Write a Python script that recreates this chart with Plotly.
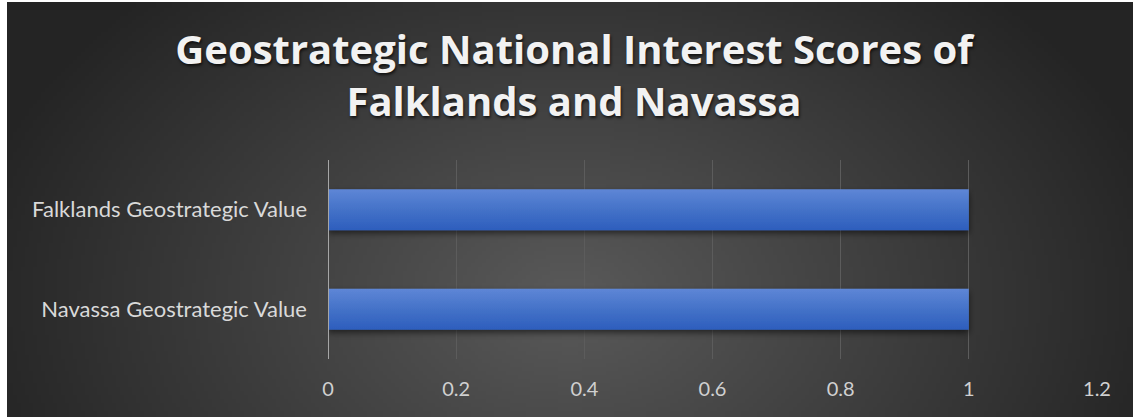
import base64, struct, zlib
import numpy as np
import plotly.graph_objects as go

# ---- data ----
categories = ["Navassa Geostrategic Value", "Falklands Geostrategic Value"]
scores = [1, 1]
x_ticks = [0, 0.2, 0.4, 0.6, 0.8, 1, 1.2]
x_tick_labels = ["0", "0.2", "0.4", "0.6", "0.8", "1", "1.2"]
title_text = "Geostrategic National Interest Scores of<br>Falklands and Navassa"

# ---- radial gradient background as PNG ----
W, H = 1133, 417
ML, MR, MT, MB = 328, 36, 160, 58
gw, gh = 283, 104
xs = (np.arange(gw) + 0.5) / gw * (W - 7) + 7
ys = (np.arange(gh) + 0.5) / gh * (H - 2) + 2
X, Y = np.meshgrid(xs, ys)
r = np.sqrt(((X - 570) / 620.0) ** 2 + ((Y - 300) / 430.0) ** 2)
r = np.clip(r, 0, 1)
val = 0x5a - (0x5a - 0x24) * r
img = np.clip(val, 0, 255).astype(np.uint8)
rgb = np.stack([img, img, img], axis=-1)


def make_png(arr):
    h, w, _ = arr.shape
    raw = b"".join(b"\x00" + arr[i].tobytes() for i in range(h))

    def chunk(tag, data):
        c = struct.pack(">I", len(data)) + tag + data
        return c + struct.pack(">I", zlib.crc32(tag + data) & 0xFFFFFFFF)

    return (b"\x89PNG\r\n\x1a\n"
            + chunk(b"IHDR", struct.pack(">IIBBBBB", w, h, 8, 2, 0, 0, 0))
            + chunk(b"IDAT", zlib.compress(raw, 9))
            + chunk(b"IEND", b""))


bg_uri = "data:image/png;base64," + base64.b64encode(make_png(rgb)).decode()
pw, ph = W - ML - MR, H - MT - MB

fig = go.Figure()
fig.add_trace(go.Bar(
    x=scores, y=categories, orientation="h",
    marker=dict(color="#4170CA", line=dict(width=0)),
    width=0.41, hoverinfo="x+y",
))

fig.update_layout(
    width=W, height=H,
    margin=dict(l=ML, r=MR, t=MT, b=MB),
    paper_bgcolor="white",
    plot_bgcolor="rgba(0,0,0,0)",
    showlegend=False,
    title=dict(
        text=title_text, x=574 / W, xanchor="center",
        yref="container", y=1 - 64 / H, yanchor="top",
        font=dict(family="Open Sans", size=40, color="#F2F2F2", weight="bold",
                  shadow="1px 2px 3px rgba(0,0,0,0.7)"),
    ),
    images=[dict(source=bg_uri, xref="paper", yref="paper",
                 x=(7 - ML) / pw, y=1 + (MT - 2) / ph,
                 sizex=(W - 7) / pw, sizey=(H - 2) / ph,
                 xanchor="left", yanchor="top", sizing="stretch", layer="below")],
    xaxis=dict(
        range=[0, 1.2], tickvals=x_ticks, ticktext=x_tick_labels,
        showgrid=True, gridcolor="#5C5C5C", gridwidth=1,
        zeroline=False, showline=False, ticks="",
        tickfont=dict(family="Lato", size=20, color="#D0D0D0"),
        ticklabelstandoff=16, fixedrange=True,
    ),
    yaxis=dict(
        showgrid=False, zeroline=False, showline=False, ticks="",
        tickfont=dict(family="Lato", size=22, color="#D9D9D9"),
        ticklabelstandoff=20, range=[-0.5, 1.5],
    ),
    shapes=[dict(type="line", xref="x", yref="paper", x0=0, x1=0, y0=0, y1=1,
                 line=dict(color="#A6A6A6", width=2), layer="above")],
)

post_js = """
document.body.style.margin = '0';
var gd = document.getElementById('{plot_id}');
var svg = gd.querySelector('svg.main-svg');
var ns = 'http://www.w3.org/2000/svg';
var defs = svg.querySelector('defs') || svg.insertBefore(document.createElementNS(ns, 'defs'), svg.firstChild);
var lg = document.createElementNS(ns, 'linearGradient');
lg.setAttribute('id', 'bargrad');
lg.setAttribute('x1', '0'); lg.setAttribute('y1', '0');
lg.setAttribute('x2', '0'); lg.setAttribute('y2', '1');
[['0', '#5E86D6'], ['0.5', '#4472C8'], ['1', '#2D5EBD']].forEach(function (s) {
  var st = document.createElementNS(ns, 'stop');
  st.setAttribute('offset', s[0]); st.setAttribute('stop-color', s[1]);
  lg.appendChild(st);
});
defs.appendChild(lg);
var f = document.createElementNS(ns, 'filter');
f.setAttribute('id', 'barshadow');
f.setAttribute('x', '-5%'); f.setAttribute('y', '-20%');
f.setAttribute('width', '110%'); f.setAttribute('height', '160%');
var ds = document.createElementNS(ns, 'feDropShadow');
ds.setAttribute('dx', '0'); ds.setAttribute('dy', '3');
ds.setAttribute('stdDeviation', '3'); ds.setAttribute('flood-color', '#000');
ds.setAttribute('flood-opacity', '0.55');
f.appendChild(ds);
defs.appendChild(f);
gd.querySelectorAll('.bars .point path').forEach(function (p) {
  p.style.fill = 'url(#bargrad)';
  p.style.filter = 'url(#barshadow)';
});
"""

fig.write_html("out.html", post_script=post_js, config={"displayModeBar": False})
